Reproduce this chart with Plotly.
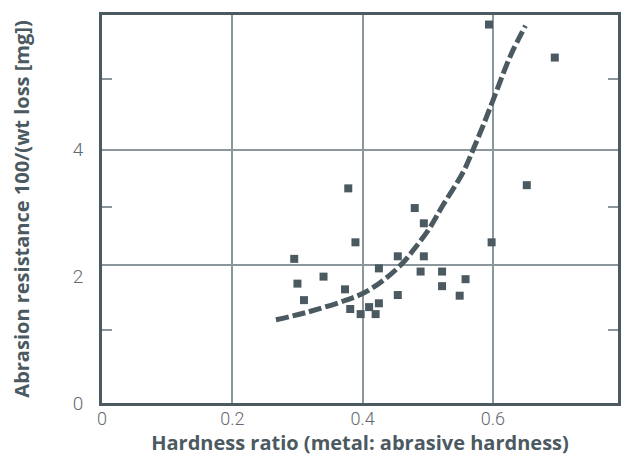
import plotly.graph_objects as go

# Measured samples: hardness ratio vs abrasion resistance
hardness_ratio = [0.594, 0.695, 0.652, 0.378, 0.480, 0.494, 0.389, 0.598, 0.295,
                  0.454, 0.494, 0.425, 0.340, 0.489, 0.522, 0.558, 0.300, 0.522,
                  0.373, 0.454, 0.549, 0.310, 0.425, 0.381, 0.410, 0.397, 0.420]
resistance = [5.96, 5.44, 3.43, 3.38, 3.07, 2.83, 2.53, 2.53, 2.27,
              2.31, 2.31, 2.12, 1.99, 2.07, 2.07, 1.95, 1.88, 1.84,
              1.79, 1.70, 1.69, 1.62, 1.57, 1.48, 1.51, 1.40, 1.40]

# Trend curve through the data
trend_x = [0.267, 0.315, 0.372, 0.403, 0.434, 0.463, 0.481, 0.502, 0.523,
           0.554, 0.570, 0.585, 0.601, 0.627, 0.650]
trend_y = [1.31, 1.43, 1.61, 1.74, 1.95, 2.22, 2.45, 2.74, 3.11,
           3.63, 4.00, 4.37, 4.79, 5.47, 5.94]

x_ticks = [0, 0.2, 0.4, 0.6]
x_labels = ["0", "0.2", "0.4", "0.6"]
y_ticks = [0, 2, 4]
y_labels = ["0", "2", "4"]
y_grid = [2.18, 3.98]
y_inner_ticks = [1.155, 3.08, 5.10]

X_MAX = 0.792
Y_MAX = 6.11

DARK = "#4b5961"
GRID = "#8c979d"
TEXT = "#5f6b72"

TITLE_FONT = dict(size=20, color=DARK, family="Open Sans", weight="bold")
TICK_FONT = dict(size=19, color=TEXT, family="Roboto", weight=300)

fig = go.Figure()

fig.add_trace(go.Scatter(
    x=hardness_ratio, y=resistance, mode="markers",
    marker=dict(symbol="square", size=8, color=DARK, line=dict(width=0)),
    hoverinfo="x+y", showlegend=False,
))

fig.add_trace(go.Scatter(
    x=trend_x, y=trend_y, mode="lines", yaxis="y2",
    line=dict(color=DARK, width=5, dash="13px,4px", shape="spline", smoothing=1.0),
    hoverinfo="skip", showlegend=False,
))

fig.update_layout(
    width=624, height=458,
    margin=dict(l=102, r=3, t=15, b=55),
    paper_bgcolor="white", plot_bgcolor="white",
    font=dict(family="Roboto", color=TEXT),
    xaxis=dict(
        range=[0, X_MAX], tickmode="array", tickvals=x_ticks, ticktext=x_labels,
        showgrid=True, gridcolor=GRID, gridwidth=1.5, zeroline=False,
        showline=True, mirror=True, linecolor=DARK, linewidth=3,
        ticks="", tickfont=dict(TICK_FONT, size=18), ticklabelstandoff=-3,
        title=dict(text="Hardness ratio (metal: abrasive hardness)",
                   font=TITLE_FONT, standoff=4),
    ),
    yaxis=dict(
        range=[0, Y_MAX], tickmode="array", tickvals=y_ticks, ticktext=y_labels,
        showgrid=False, zeroline=False,
        minor=dict(tickmode="array", tickvals=y_grid, showgrid=True,
                   gridcolor=GRID, gridwidth=1.5, ticks=""),
        showline=True, mirror=True, linecolor=DARK, linewidth=3,
        ticks="", tickfont=TICK_FONT, ticklabelstandoff=12,
        title=dict(text="Abrasion resistance 100/(wt loss [mg])",
                   font=TITLE_FONT, standoff=38),
    ),
    yaxis2=dict(
        range=[0, Y_MAX], overlaying="y", side="left",
        tickmode="array", tickvals=y_inner_ticks, showticklabels=False,
        ticks="inside", ticklen=10, tickwidth=2, tickcolor=GRID,
        mirror="ticks", showline=False, showgrid=False, zeroline=False,
    ),
)

fig.write_html("out.html")
